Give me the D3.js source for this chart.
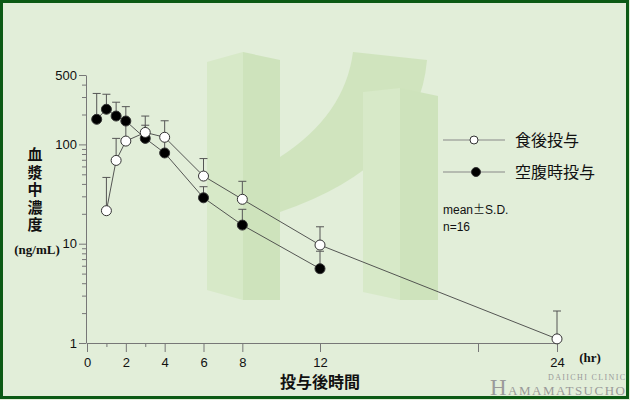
<!DOCTYPE html>
<html lang="ja">
<head>
    <meta charset="UTF-8">
    <title>血漿中濃度</title>
    <script src="https://cdn.jsdelivr.net/npm/d3@7/dist/d3.min.js"></script>
    <style>
        body { margin: 0; background: #fff; }
        svg { display: block; }
        .axis path, .axis line { stroke: #777; }
        .axis text { font-family: "Liberation Sans", Arial, sans-serif; font-size: 13px; fill: #111; }
        .jp { font-family: "Noto Sans CJK JP", sans-serif; fill: #111; }
        .serif { font-family: "Liberation Serif", "Times New Roman", serif; font-weight: bold; fill: #111; }
    </style>
</head>
<body>
    <svg width=630 height=400></svg>
    <script>
        // 食後投与 (open circles)
        var fedTime = [1, 1.5, 2, 3, 4, 6, 8, 12, 24],
            fedMean = [21.5, 69, 108, 132, 118, 48, 28, 9.7, 1.1],
            fedSD = [25, 46, 57, 61, 55, 24, 14.5, 5.1, 1.0];

        // 空腹時投与 (filled circles)
        var fastTime = [0.5, 1, 1.5, 2, 3, 4, 6, 8, 12],
            fastMean = [179, 226, 193, 172, 115, 82, 29, 15.4, 5.6],
            fastSD = [147, 94, 73, 68, 41, 33, 8.5, 6.8, 2.8];

        var xMajorTicks = [0, 2, 4, 6, 8, 12, 20, 24],
            xMinorTicks = [1, 3],
            xLabels = [0, 2, 4, 6, 8, 12, 24],
            yMajorTicks = [1, 10, 100, 500],
            yMinorTicks = [2, 3, 4, 5, 6, 7, 8, 9, 20, 30, 40, 50, 60, 70, 80, 90, 200, 300, 400],
            legendNames = ['食後投与', '空腹時投与'];

        var svg = d3.select('svg');

        var xScale = d3.scaleLinear().domain([0, 12, 24]).range([87, 320, 557]),
            yScale = d3.scaleLog().domain([1, 500]).range([343, 75]);

        // background
        svg.append('rect')
            .attr('x', 0).attr('y', 0).attr('width', 630).attr('height', 400)
            .attr('fill', '#e2eed9');

        // watermark logo
        var logo = svg.append('g').attr('opacity', 0.7);
        logo.append('path')
            .attr('d', 'M207,62 L243,52 L243,300 L207,290 Z')
            .attr('fill', '#d3e7c1');
        logo.append('path')
            .attr('d', 'M243,52 L280,60 L280,300 L243,300 Z')
            .attr('fill', '#c6dfb0');
        logo.append('path')
            .attr('d', 'M280,157 Q345,115 353,52 L427,60 Q418,165 280,212 Z')
            .attr('fill', '#c9e1b3');
        logo.append('path')
            .attr('d', 'M363,92 L400,88 L400,300 L363,292 Z')
            .attr('fill', '#d3e7c1');
        logo.append('path')
            .attr('d', 'M400,88 L438,96 L438,300 L400,300 Z')
            .attr('fill', '#c6dfb0');

        // axes
        svg.append('g')
            .attr('class', 'axis')
            .attr('transform', 'translate(0,343)')
            .call(d3.axisBottom(xScale).tickValues(xMajorTicks).tickSize(9).tickSizeOuter(0)
                .tickFormat(function(d) { return xLabels.indexOf(d) >= 0 ? d : ''; }))
            .call(function(g) { g.selectAll('text').attr('dy', '0.9em'); });

        svg.append('g')
            .attr('class', 'axis')
            .attr('transform', 'translate(0,343)')
            .call(d3.axisBottom(xScale).tickValues(xMinorTicks).tickSize(4).tickFormat(''))
            .call(function(g) { g.select('.domain').remove(); });

        svg.append('g')
            .attr('class', 'axis')
            .attr('transform', 'translate(86,0)')
            .call(d3.axisLeft(yScale).tickValues(yMajorTicks).tickSize(7).tickSizeOuter(0)
                .tickFormat(d3.format('d')))
            .call(function(g) { g.selectAll('text').attr('x', -9); });

        svg.append('g')
            .attr('class', 'axis')
            .attr('transform', 'translate(86,0)')
            .call(d3.axisLeft(yScale).tickValues(yMinorTicks).tickSize(4).tickFormat(''))
            .call(function(g) { g.select('.domain').remove(); });

        // axis titles
        svg.append('text')
            .attr('class', 'jp')
            .attr('x', 35).attr('y', 147)
            .attr('font-size', 15)
            .attr('font-weight', 'bold')
            .style('writing-mode', 'vertical-rl')
            .style('letter-spacing', '2.5px')
            .text('血漿中濃度');

        svg.append('text')
            .attr('class', 'serif')
            .attr('x', 37).attr('y', 254)
            .attr('text-anchor', 'middle')
            .attr('font-size', 13)
            .text('(ng/mL)');

        svg.append('text')
            .attr('class', 'jp')
            .attr('x', 320).attr('y', 388)
            .attr('text-anchor', 'middle')
            .attr('font-size', 16)
            .attr('font-weight', 'bold')
            .text('投与後時間');

        svg.append('text')
            .attr('class', 'serif')
            .attr('x', 590).attr('y', 362)
            .attr('text-anchor', 'middle')
            .attr('font-size', 13)
            .text('(hr)');

        // series
        function zip(t, m, s) {
            return t.map(function(d, i) { return { t: d, m: m[i], s: s[i] }; });
        }
        var series = [
            { data: zip(fedTime, fedMean, fedSD), fill: '#fff' },
            { data: zip(fastTime, fastMean, fastSD), fill: '#000' }
        ];

        var lineG = d3.line()
            .x(function(d) { return xScale(d.t); })
            .y(function(d) { return yScale(d.m); });

        series.forEach(function(s) {
            svg.append('path')
                .datum(s.data)
                .attr('d', lineG)
                .attr('fill', 'none')
                .attr('stroke', '#444')
                .attr('stroke-width', 0.9);
        });

        series.slice().reverse().forEach(function(s) {
            var eb = svg.append('g').selectAll('g')
                .data(s.data)
                .enter().append('g')
                .attr('stroke', '#555')
                .attr('stroke-width', 1);
            eb.append('line')
                .attr('x1', function(d) { return xScale(d.t); })
                .attr('x2', function(d) { return xScale(d.t); })
                .attr('y1', function(d) { return yScale(d.m); })
                .attr('y2', function(d) { return yScale(d.m + d.s); });
            eb.append('line')
                .attr('x1', function(d) { return xScale(d.t) - 4; })
                .attr('x2', function(d) { return xScale(d.t) + 4; })
                .attr('y1', function(d) { return yScale(d.m + d.s); })
                .attr('y2', function(d) { return yScale(d.m + d.s); });
        });

        series.slice().reverse().forEach(function(s) {
            svg.append('g').selectAll('circle')
                .data(s.data)
                .enter().append('circle')
                .attr('cx', function(d) { return xScale(d.t); })
                .attr('cy', function(d) { return yScale(d.m); })
                .attr('r', 5)
                .attr('fill', s.fill)
                .attr('stroke', '#333')
                .attr('stroke-width', 1);
        });

        // legend
        var legend = svg.append('g').selectAll('g')
            .data(legendNames)
            .enter().append('g')
            .attr('transform', function(d, i) { return 'translate(443,' + (140 + i * 32) + ')'; });
        legend.append('line')
            .attr('x1', 0).attr('x2', 62)
            .attr('stroke', '#888').attr('stroke-width', 1);
        legend.append('circle')
            .attr('cx', function(d, i) { return i === 0 ? 31 : 33; })
            .attr('r', function(d, i) { return i === 0 ? 4 : 4.5; })
            .attr('fill', function(d, i) { return series[i].fill; })
            .attr('stroke', '#333');
        legend.append('text')
            .attr('class', 'jp')
            .attr('x', 72).attr('y', 0)
            .attr('dy', '0.35em')
            .attr('font-size', 16)
            .text(function(d) { return d; });

        var note = svg.append('text')
            .attr('x', 443).attr('y', 214)
            .attr('font-family', '"Liberation Sans", Arial, sans-serif')
            .attr('font-size', 12)
            .attr('fill', '#111');
        note.append('tspan').text('mean');
        note.append('tspan').attr('font-family', '"Noto Sans CJK JP", sans-serif').text('±');
        note.append('tspan').text('S.D.');
        svg.append('text')
            .attr('x', 443).attr('y', 231)
            .attr('font-family', '"Liberation Sans", Arial, sans-serif')
            .attr('font-size', 12)
            .attr('fill', '#111')
            .text('n=16');

        // clinic watermark
        var wm = svg.append('g')
            .attr('font-family', '"Liberation Serif", serif')
            .attr('fill', '#9a9a9a');
        wm.append('text').attr('x', 490).attr('y', 395).attr('font-size', 23).text('H');
        wm.append('text').attr('x', 508).attr('y', 395).attr('font-size', 13)
            .attr('textLength', 117).text('AMAMATSUCHO');
        wm.append('text').attr('x', 548).attr('y', 380).attr('font-size', 8)
            .attr('textLength', 77).text('DAIICHI CLINIC');

        // frame
        svg.append('rect')
            .attr('x', 1.5).attr('y', 1.5).attr('width', 626).attr('height', 396)
            .attr('fill', 'none')
            .attr('stroke', '#0b5a14')
            .attr('stroke-width', 3);
    </script>
</body>
</html>
